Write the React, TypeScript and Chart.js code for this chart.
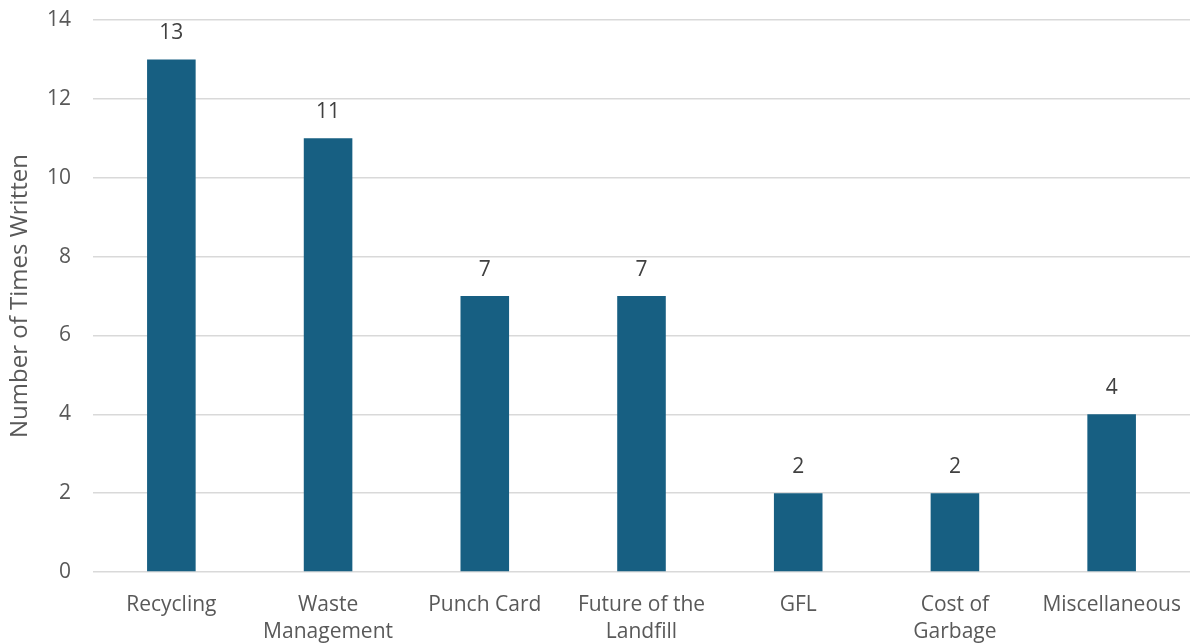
import React, { useEffect, useRef } from "react";
import { Chart, registerables } from "chart.js";

Chart.register(...registerables);

const categories: (string | string[])[] = [
  "Recycling",
  ["Waste", "Management"],
  "Punch Card",
  ["Future of the", "Landfill"],
  "GFL",
  ["Cost of", "Garbage"],
  "Miscellaneous",
];
const values = [13, 11, 7, 7, 2, 2, 4];
const yTitle = "Number of Times Written";

const FONT = "'Open Sans', 'Noto Sans', sans-serif";

const valueLabels = {
  id: "valueLabels",
  afterDatasetsDraw(chart: any) {
    const ctx = chart.ctx;
    const meta = chart.getDatasetMeta(0);
    ctx.save();
    ctx.fillStyle = "#404040";
    ctx.font = `21px ${FONT}`;
    ctx.textAlign = "center";
    ctx.textBaseline = "middle";
    meta.data.forEach((bar: any, i: number) => {
      ctx.fillText(String(values[i]), bar.x, bar.y - 26);
    });
    ctx.restore();
  },
};

export default function App() {
  const ref = useRef<HTMLCanvasElement>(null);
  useEffect(() => {
    document.body.style.margin = "0";
    const chart = new Chart(ref.current!, {
      type: "bar",
      data: {
        labels: categories,
        datasets: [
          {
            data: values,
            backgroundColor: "#175F82",
            barPercentage: 0.31,
            categoryPercentage: 1,
          },
        ],
      },
      options: {
        animation: false,
        responsive: false,
        maintainAspectRatio: false,
        layout: { padding: { top: 20, right: 2, left: 0, bottom: 0 } },
        plugins: { legend: { display: false }, tooltip: { enabled: false } },
        scales: {
          x: {
            grid: { display: false },
            border: { display: false },
            ticks: {
              color: "#595959",
              font: { family: FONT, size: 21, lineHeight: 1.27 },
              maxRotation: 0,
              autoSkip: false,
              padding: 12,
            },
            afterFit: (s: any) => {
              s.height = 71;
              s.paddingLeft = 0;
              s.paddingRight = 0;
            },
          },
          y: {
            min: 0,
            max: 14,
            ticks: {
              stepSize: 2,
              color: "#595959",
              font: { family: FONT, size: 21 },
              padding: 22,
            },
            grid: { color: "#d9d9d9", lineWidth: 1.5, drawTicks: false },
            border: { display: false },
            title: {
              display: true,
              text: yTitle,
              color: "#595959",
              font: { family: FONT, size: 24 },
              padding: { top: 6, bottom: 0 },
            },
            afterFit: (s: any) => {
              s.width = 93;
              s.paddingTop = 0;
              s.paddingBottom = 0;
            },
          },
        },
      },
      plugins: [valueLabels],
    });
    return () => chart.destroy();
  }, []);
  return (
    <div style={{ position: "fixed", left: 0, top: 0, width: 1192, height: 643 }}>
      <canvas ref={ref} width={1192} height={643} style={{ width: 1192, height: 643 }} />
    </div>
  );
}
